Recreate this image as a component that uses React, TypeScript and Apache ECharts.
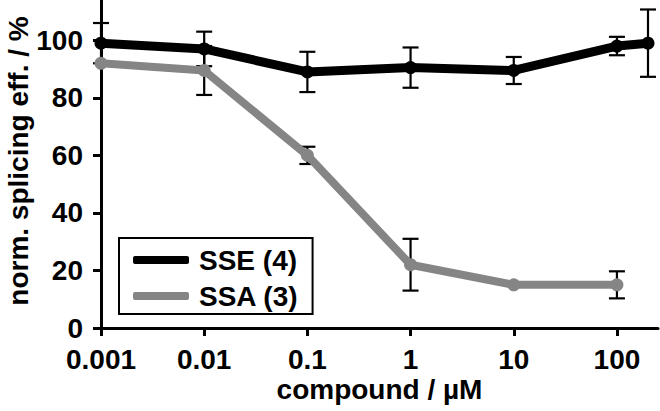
import React, { useEffect, useRef } from "react";
import * as echarts from "echarts";

const sseConcentrations = [0.001, 0.01, 0.1, 1, 10, 100, 200];
const sseValues = [99, 97, 89, 90.5, 89.5, 98, 99];
const sseErrors = [7, 6, 7, 7, 4.7, 3.2, 11.7];

const ssaConcentrations = [0.001, 0.01, 0.1, 1, 10, 100];
const ssaValues = [92, 89.5, 60, 22, 15, 15];
const ssaErrors = [0, 8.5, 3, 9, 0, 4.7];

const xTicks = [0.001, 0.01, 0.1, 1, 10, 100];
const yTicks = [0, 20, 40, 60, 80, 100];

const FONT = "Liberation Sans, Arial, Helvetica, sans-serif";

function fmtX(v: number) {
  const e = Math.round(Math.log10(v));
  return e < 0 ? Math.pow(10, e).toFixed(-e) : String(Math.round(Math.pow(10, e)));
}

function errData(xs: number[], ys: number[], es: number[]) {
  const out: number[][] = [];
  xs.forEach((x, i) => {
    if (es[i] > 0) out.push([x, ys[i] - es[i], ys[i] + es[i]]);
  });
  return out;
}

const renderErr = (params: any, api: any) => {
  const x = api.value(0);
  const lo = api.coord([x, api.value(1)]);
  const hi = api.coord([x, api.value(2)]);
  const hw = 8;
  const style = { stroke: "#000", lineWidth: 2.2 };
  return {
    type: "group",
    children: [
      { type: "line", shape: { x1: lo[0], y1: lo[1], x2: hi[0], y2: hi[1] }, style },
      { type: "line", shape: { x1: lo[0] - hw, y1: lo[1], x2: lo[0] + hw, y2: lo[1] }, style },
      { type: "line", shape: { x1: hi[0] - hw, y1: hi[1], x2: hi[0] + hw, y2: hi[1] }, style },
    ],
  };
};

const labelStyle = { fontSize: 28, fontWeight: "bold", color: "#000", fontFamily: FONT };

export default function App() {
  const ref = useRef<HTMLDivElement>(null);
  useEffect(() => {
    if (!ref.current) return;
    const chart = echarts.init(ref.current, null, { renderer: "svg" });
    chart.setOption({
      animation: false,
      backgroundColor: "#fff",
      textStyle: { fontFamily: FONT },
      grid: { left: 101, right: 2, top: 0, bottom: 83, containLabel: false, outerBoundsMode: "none" },
      legend: {
        orient: "vertical",
        left: 119,
        top: 238,
        padding: [8, 14, 4, 14],
        itemGap: 8,
        itemWidth: 56,
        itemHeight: 8,
        borderColor: "#000",
        borderWidth: 2,
        borderRadius: 0,
        backgroundColor: "#fff",
        data: [
          { name: "SSE (4)", icon: "roundRect" },
          { name: "SSA (3)", icon: "roundRect" },
        ],
        textStyle: { ...labelStyle, lineHeight: 28, padding: [0, 0, 0, 5] },
      },
      xAxis: {
        type: "log",
        logBase: 10,
        min: 0.001,
        max: 250,
        name: "compound / µM",
        nameLocation: "middle",
        nameGap: 47,
        nameMoveOverlap: false,
        nameTextStyle: labelStyle,
        axisLine: { show: true, lineStyle: { color: "#000", width: 3 } },
        axisTick: { show: true, inside: false, length: 8, lineStyle: { color: "#000", width: 3 }, customValues: xTicks },
        axisLabel: {
          ...labelStyle,
          margin: 17,
          customValues: xTicks,
          formatter: (v: number) => fmtX(v),
        },
        splitLine: { show: false },
        minorTick: { show: false },
      },
      yAxis: {
        type: "value",
        min: 0,
        max: 114,
        name: "norm. splicing eff. / %",
        nameLocation: "middle",
        nameGap: 69,
        nameMoveOverlap: false,
        nameTextStyle: { ...labelStyle, padding: [0, 0, 0, 6] },
        axisLine: { show: true, lineStyle: { color: "#000", width: 3 } },
        axisTick: { show: true, inside: false, length: 8, lineStyle: { color: "#000", width: 3 }, customValues: yTicks },
        axisLabel: {
          ...labelStyle,
          margin: 18,
          customValues: yTicks,
        },
        splitLine: { show: false },
      },
      series: [
        {
          type: "custom",
          name: "errSSA",
          renderItem: renderErr,
          data: errData(ssaConcentrations, ssaValues, ssaErrors),
          z: 1,
          silent: true,
        },
        {
          type: "custom",
          name: "errSSE",
          renderItem: renderErr,
          data: errData(sseConcentrations, sseValues, sseErrors),
          z: 1,
          silent: true,
        },
        {
          type: "line",
          name: "SSA (3)",
          data: ssaConcentrations.map((c, i) => [c, ssaValues[i]]),
          symbol: "circle",
          symbolSize: 13,
          lineStyle: { color: "#858585", width: 8 },
          itemStyle: { color: "#858585" },
          z: 3,
        },
        {
          type: "line",
          name: "SSE (4)",
          data: sseConcentrations.map((c, i) => [c, sseValues[i]]),
          symbol: "circle",
          symbolSize: 13,
          lineStyle: { color: "#000", width: 9 },
          itemStyle: { color: "#000" },
          z: 4,
        },
      ],
    });
    return () => chart.dispose();
  }, []);
  return (
    <div
      ref={ref}
      style={{ position: "fixed", left: 0, top: 0, width: 660, height: 411, background: "#fff" }}
    />
  );
}
